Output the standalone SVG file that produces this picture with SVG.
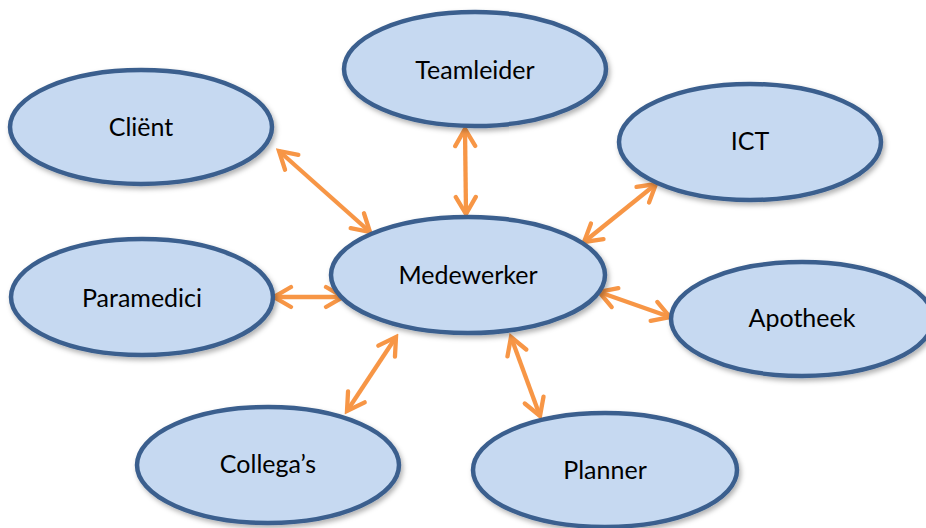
<svg xmlns="http://www.w3.org/2000/svg" width="926" height="528" viewBox="0 0 926 528">
<style>
.node ellipse{fill:#C6D9F1;stroke:#3A5F8E;stroke-width:4.5;filter:url(#sh)}
.node text{font-family:Lato,"Liberation Sans",sans-serif;font-size:25px;fill:#000;text-anchor:middle}
.conn line{stroke:#F79646;stroke-width:4.3;marker-start:url(#ah);marker-end:url(#ah)}
</style>
<defs>
<filter id="sh" x="-10%" y="-10%" width="125%" height="130%">
<feDropShadow dx="2" dy="3" stdDeviation="2.5" flood-color="#000" flood-opacity="0.3"/>
</filter>
<marker id="ah" viewBox="-24 -14 28 28" refX="0" refY="0" markerWidth="28" markerHeight="28" markerUnits="userSpaceOnUse" orient="auto-start-reverse">
<path d="M-17,-10 L0,0 L-17,10" fill="none" stroke="#F79646" stroke-width="4.3" stroke-linecap="round" stroke-linejoin="miter"/>
</marker>
</defs>
<rect width="926" height="528" fill="#fff"/>
<g id="connectors" class="conn">
<line x1="370" y1="232" x2="279" y2="151"/>
<line x1="466" y1="214" x2="465" y2="129"/>
<line x1="584" y1="242" x2="656" y2="184"/>
<line x1="343" y1="297" x2="274" y2="297"/>
<line x1="396" y1="337" x2="347" y2="411"/>
<line x1="599" y1="292" x2="670" y2="317"/>
<line x1="511" y1="337" x2="540" y2="416"/>
</g>
<g id="teamleider" class="node"><ellipse cx="475" cy="69" rx="131" ry="57"/><text x="475" y="79">Teamleider</text></g>
<g id="client" class="node"><ellipse cx="141" cy="127" rx="131" ry="57"/><text x="141" y="136">Cliënt</text></g>
<g id="ict" class="node"><ellipse cx="750" cy="142" rx="131" ry="58"/><text x="750" y="150">ICT</text></g>
<g id="medewerker" class="node"><ellipse cx="468" cy="275" rx="137" ry="58"/><text x="468" y="284">Medewerker</text></g>
<g id="paramedici" class="node"><ellipse cx="142" cy="297" rx="131" ry="58"/><text x="142" y="307">Paramedici</text></g>
<g id="apotheek" class="node"><ellipse cx="802" cy="319" rx="131" ry="57"/><text x="802" y="327">Apotheek</text></g>
<g id="collegas" class="node"><ellipse cx="268" cy="465" rx="131" ry="58"/><text x="268" y="473">Collega’s</text></g>
<g id="planner" class="node"><ellipse cx="605" cy="470" rx="132" ry="57"/><text x="605" y="479">Planner</text></g>
</svg>
